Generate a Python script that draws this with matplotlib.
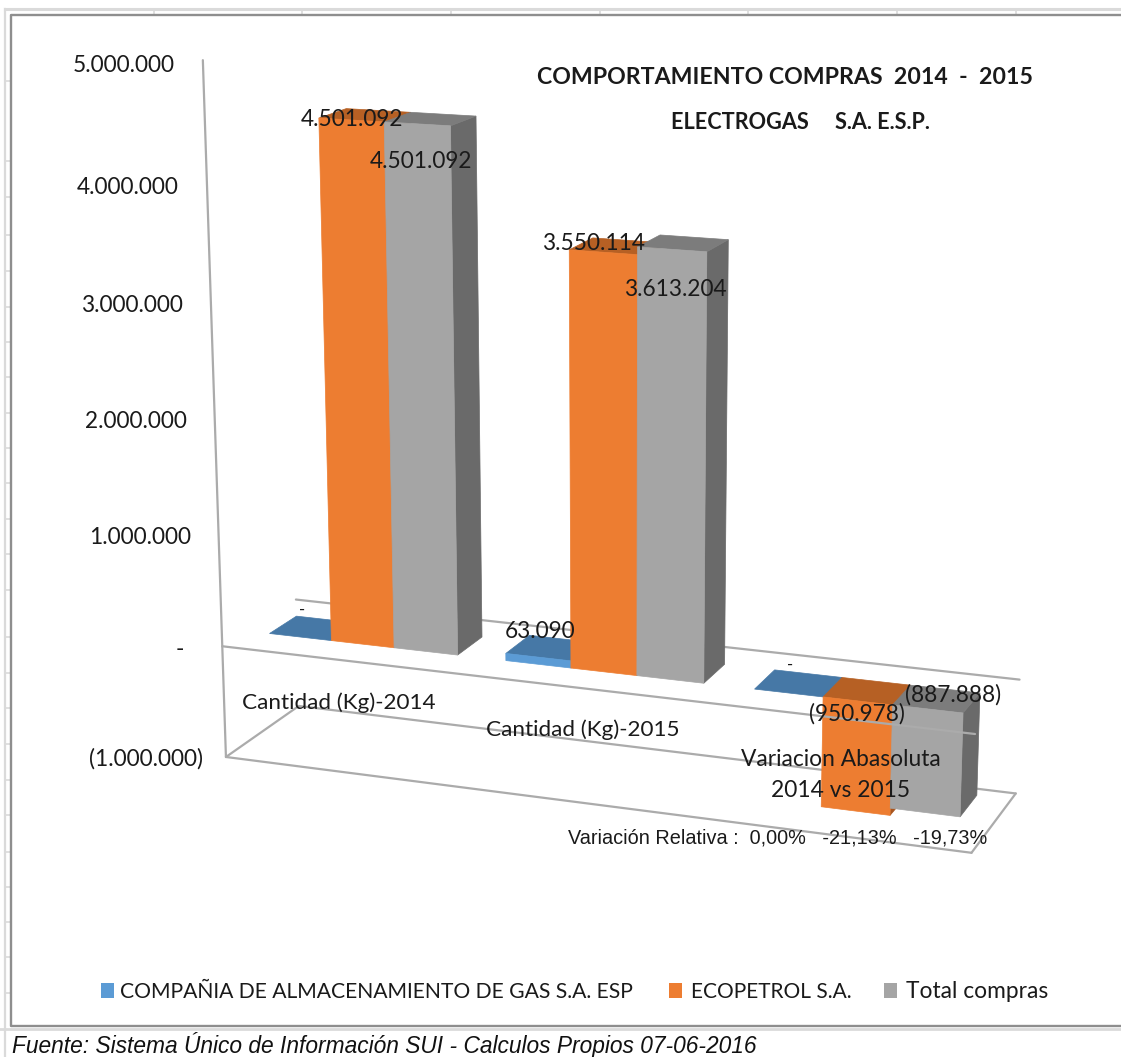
import numpy as np
import matplotlib
matplotlib.use("Agg")
import matplotlib.pyplot as plt
from matplotlib.patches import Polygon, Rectangle

# ---- data ----
categories = ["Cantidad (Kg)-2014", "Cantidad (Kg)-2015", "Variacion Abasoluta\n2014 vs 2015"]
series_names = ["COMPAÑIA DE ALMACENAMIENTO DE GAS S.A. ESP", "ECOPETROL S.A.", "Total compras"]
almacenamiento = [0, 63090, 0]
ecopetrol = [4501092, 3550114, -950978]
total_compras = [4501092, 3613204, -887888]
axis_ticks = [5000000, 4000000, 3000000, 2000000, 1000000, 0, -1000000]
axis_tick_labels = ["5.000.000", "4.000.000", "3.000.000", "2.000.000", "1.000.000", "-", "(1.000.000)"]
title_1 = "COMPORTAMIENTO COMPRAS  2014  -  2015"
title_2 = "ELECTROGAS     S.A. E.S.P."
relative_note = "Variación Relativa :  0,00%   -21,13%   -19,73%"
source_note = "Fuente: Sistema Único de Información SUI - Calculos Propios 07-06-2016"

W, H = 1121, 1057
fig = plt.figure(figsize=(W / 100, H / 100), dpi=100, facecolor="white")
ax = fig.add_axes([0, 0, 1, 1])
ax.set_xlim(0, W)
ax.set_ylim(H, 0)
ax.axis("off")

# ---- layout of the bars inside the box ----
gap = 0.0667
bar_w = (1 / 3 - gap) / 3
w0, w1 = 0.34, 0.67          # depth used for the camera fit
draw_w0, draw_w1 = 0.32, 0.69  # depth used for drawing

# ---- perspective camera: fitted on box and bar corners (u along categories, w depth, v in millions) ----
calib = [
    ((0, 0, -1), (227, 757)), ((0, 0, 0), (222, 647)), ((0, 0, 5), (203, 60)),
    ((0, 1, -1), (297, 709)), ((0, 1, 0), (297, 598)),
    ((1, 0, -1), (973, 852)), ((1, 0, 0), (977, 733)),
    ((1, 1, -1), (1015, 792)), ((1, 1, 0), (1020, 678)),
    ((0.3, w0, 4.5), (449, 126)), ((0.3, w1, 4.5), (477, 117)),
    ((0.3, w0, 0), (457, 653)), ((0.3, w1, 0), (483, 635)),
    ((0.6333, w0, 3.613), (706, 252)), ((0.6333, w1, 3.613), (729, 239)),
    ((0.9667, w0, -0.888), (959, 816)), ((0.9667, w0, 0), (963, 712)),
    ((0.9667, w1, 0), (979, 700)),
]
A, b_ = [], []
for (u, w, v), (x, y) in calib:
    A.append([u, w, v, 1, 0, 0, 0, 0, -x * u, -x * w, -x * v])
    b_.append(x)
    A.append([0, 0, 0, 0, u, w, v, 1, -y * u, -y * w, -y * v])
    b_.append(y)
P = np.linalg.lstsq(np.array(A, float), np.array(b_, float), rcond=None)[0]
P = np.append(P, 1.0).reshape(3, 4)


def proj(u, w, val):
    h = P @ np.array([u, w, val / 1e6, 1.0])
    return h[0] / h[2], h[1] / h[2]


LINE = "#ABABAB"


def edge(a, c, lw=1.6, z=1):
    p, q = proj(*a), proj(*c)
    ax.plot([p[0], q[0]], [p[1], q[1]], color=LINE, lw=lw, zorder=z, solid_capstyle="round")


vmin, vmax = axis_ticks[-1], axis_ticks[0]
edge((0, 0, vmin), (0, 0, vmax))
edge((0, 0, vmin), (1, 0, vmin), z=8)
edge((0, 0, vmin), (0, 1, vmin))
edge((0, 1, vmin), (1, 1, vmin))
edge((1, 0, vmin), (1, 1, vmin))
edge((0, 1, 0), (1, 1, 0))

# ---- bars ----
front_c = ["#5B9BD5", "#ED7D31", "#A5A5A5"]
top_c = ["#4678A6", "#B66024", "#7C7C7C"]
side_c = ["#3F6E98", "#A85620", "#6A6A6A"]
series = [almacenamiento, ecopetrol, total_compras]


def face(points, color, z):
    ax.add_patch(Polygon([proj(*p) for p in points], closed=True, facecolor=color,
                         edgecolor=color, lw=0.5, zorder=z))


for c in range(len(categories)):
    for s, vals in enumerate(series):
        val = vals[c]
        lo, hi = min(0, val), max(0, val)
        u0 = c / 3 + gap / 2 + s * bar_w
        u1 = u0 + bar_w
        z = 3 + c + s * 0.1
        face([(u1, draw_w0, lo), (u1, draw_w1, lo), (u1, draw_w1, hi), (u1, draw_w0, hi)], side_c[s], z)
        face([(u0, draw_w0, hi), (u1, draw_w0, hi), (u1, draw_w1, hi), (u0, draw_w1, hi)], top_c[s], z)
        if hi > lo:
            face([(u0, draw_w0, lo), (u1, draw_w0, lo), (u1, draw_w0, hi), (u0, draw_w0, hi)], front_c[s], z)

# zero line runs in front of the bars
edge((0, 0, 0), (1, 0, 0), z=8)

# ---- text ----
LATO = "Lato"
TXT = "#1a1a1a"


def label(x, y, s, size=16.3, **kw):
    kw.setdefault("ha", "center")
    kw.setdefault("va", "center")
    kw.setdefault("family", LATO)
    kw.setdefault("color", TXT)
    if kw["family"] == LATO:
        y = y + 2
    ax.text(x, y, s, fontsize=size, zorder=12, **kw)


def money(v):
    if v == 0:
        return "-"
    s = f"{abs(v):,}".replace(",", ".")
    return f"({s})" if v < 0 else s


tick_xy = [(124, 63), (128, 185), (132, 303), (136, 419), (140, 535), (180, 647), (146, 757)]
for (x, y), t in zip(tick_xy, axis_tick_labels):
    label(x, y, t)

label_xy = {
    (0, 0): (302, 608), (1, 0): (352, 118), (2, 0): (421, 159),
    (0, 1): (540, 630), (1, 1): (594, 242), (2, 1): (675, 288),
    (0, 2): (790, 663), (1, 2): (857, 712), (2, 2): (953, 693),
}
for c in range(3):
    for s, vals in enumerate(series):
        x, y = label_xy[(s, c)]
        label(x, y, money(vals[c]), size=16.3 if vals[c] else 12)

label(339, 701, categories[0], size=16.2)
label(583, 728, categories[1], size=16.2)
label(841, 773, categories[2], size=16.4, linespacing=1.55)

label(785, 76, title_1, size=16.7, fontweight="bold")
label(800, 120.5, title_2, size=15.6, fontweight="bold")
label(778, 838, relative_note, size=14.3, family="Liberation Sans")

# ---- legend ----
legend_items = [(101, 120, 15.2), (669, 691, 15.0), (884, 906, 16.4)]
for (sx, tx, fs), name, col in zip(legend_items, series_names, front_c):
    ax.add_patch(Rectangle((sx, 983), 13, 15, facecolor=col, edgecolor="none", zorder=10))
    label(tx, 990, name, size=fs, ha="left")

label(12, 1045, source_note, size=16.35, ha="left", family="Liberation Sans", style="italic", color="#111111")

# ---- frame and spreadsheet grid remnants ----
GRID = "#DADADA"
ax.plot([5, 5], [9, 1057], color=GRID, lw=1.6, zorder=0)
ax.plot([5, W], [9, 9], color=GRID, lw=2.2, zorder=0)
ax.plot([0, W], [1028.5, 1028.5], color=GRID, lw=2, zorder=0)
for gx in [154, 302, 451, 600, 747.5, 897, 1016]:
    ax.plot([gx, gx], [9, 14], color=GRID, lw=1.2, zorder=0)
for gy in [81, 160.5, 197, 235, 271, 307, 342, 377, 413, 448, 483, 519, 554, 590, 637,
           673, 708, 744, 780, 815, 852, 887, 922, 957, 993]:
    ax.plot([5, 10], [gy, gy], color=GRID, lw=1.2, zorder=0)
FRAME = "#8E8E8E"
ax.plot([W, 10.5, 10.5, W], [15, 15, 1026, 1026], color=FRAME, lw=1.7, zorder=11)

fig.savefig("out.png", dpi=100)
